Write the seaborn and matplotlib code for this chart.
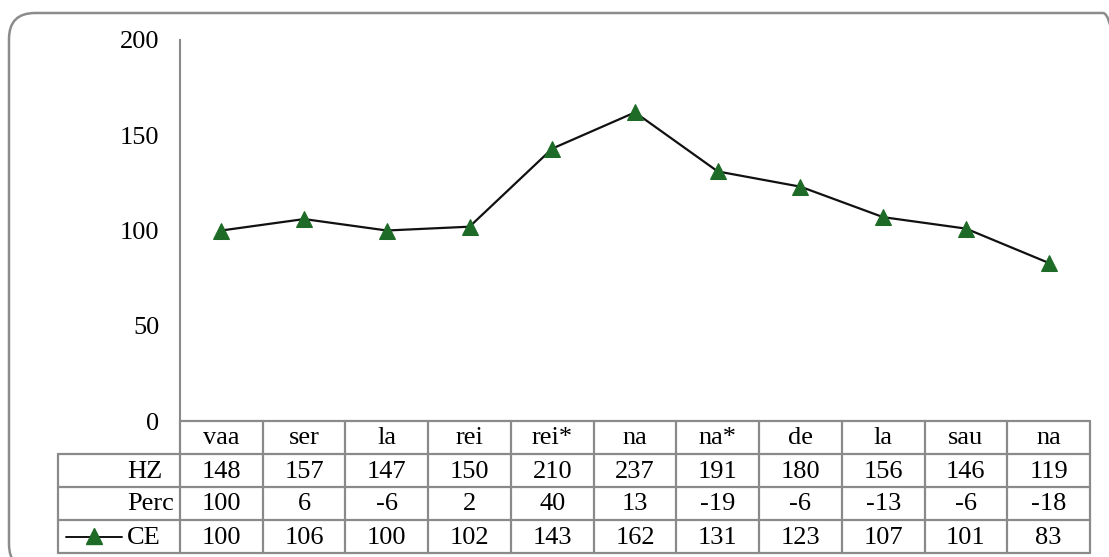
import matplotlib
matplotlib.use("Agg")
import matplotlib.pyplot as plt
import seaborn as sns
import pandas as pd
from matplotlib.patches import FancyBboxPatch
from matplotlib.lines import Line2D

categories = ["vaa", "ser", "la", "rei", "rei*", "na", "na*", "de", "la", "sau", "na"]
hz = [148, 157, 147, 150, 210, 237, 191, 180, 156, 146, 119]
perc = [100, 6, -6, 2, 40, 13, -19, -6, -13, -6, -18]
ce = [100, 106, 100, 102, 143, 162, 131, 123, 107, 101, 83]
row_labels = ["HZ", "Perc", "CE"]
y_ticks = [0, 50, 100, 150, 200]

sns.set_theme(style="white")
plt.rcParams["font.family"] = ["Liberation Serif", "DejaVu Serif"]
plt.rcParams["text.color"] = "black"

W, H = 1109, 557
fig = plt.figure(figsize=(W / 100, H / 100), dpi=100)

# frame axes (normal orientation, pixel units)
fr = fig.add_axes([0, 0, 1, 1])
fr.set_xlim(0, W)
fr.set_ylim(0, H)
fr.axis("off")
frame = FancyBboxPatch((9, H - 570), 1120, 557, boxstyle="round,pad=0,rounding_size=26",
                       fill=False, edgecolor="#8c8c8c", linewidth=1.8)
fr.add_patch(frame)

# overlay axes in pixel coordinates (y down) for table
bg = fig.add_axes([0, 0, 1, 1])
bg.set_xlim(0, W)
bg.set_ylim(H, 0)
bg.axis("off")

GRID = "#8a8a8a"
x0, x1 = 180, 1090
lab_x0 = 58
n = len(categories)
cw = (x1 - x0) / n
row_y = [421, 454, 487, 520, 553]
fs = 19

# main plot axes
ax = fig.add_axes([x0 / W, 1 - 421 / H, (x1 - x0) / W, (421 - 40) / H])
df = pd.DataFrame({"x": range(n), "CE": ce})
sns.lineplot(data=df, x="x", y="CE", ax=ax, color="#111111", linewidth=1.6,
             marker="^", markersize=11.5, markerfacecolor="#1d6b26",
             markeredgecolor="#1d6b26")
ax.set_xlim(-0.5, n - 0.5)
ax.set_ylim(0, 200)
ax.set_yticks(y_ticks)
ax.set_yticklabels([str(v) for v in y_ticks], fontsize=fs, color="black")
ax.tick_params(axis="y", length=0, pad=15)
ax.set_xticks([])
ax.set_xlabel("")
ax.set_ylabel("")
for s in ["top", "right", "bottom"]:
    ax.spines[s].set_visible(False)
ax.spines["left"].set_color(GRID)
ax.spines["left"].set_linewidth(1.5)
ax.patch.set_alpha(0)

lw = 1.6
# horizontal lines
bg.add_line(Line2D([x0, x1], [row_y[0], row_y[0]], color=GRID, lw=lw))
for y in row_y[1:]:
    bg.add_line(Line2D([lab_x0, x1], [y, y], color=GRID, lw=lw))
# vertical lines
bg.add_line(Line2D([lab_x0, lab_x0], [row_y[1], row_y[4]], color=GRID, lw=lw))
for i in range(n + 1):
    x = x0 + i * cw
    bg.add_line(Line2D([x, x], [row_y[0], row_y[4]], color=GRID, lw=lw))

# category row
for i, c in enumerate(categories):
    bg.text(x0 + (i + 0.5) * cw, (row_y[0] + row_y[1]) / 2 + 1, c, ha="center",
            va="center", fontsize=fs, color="black")
rows = [hz, perc, ce]
for r, vals in enumerate(rows):
    yc = (row_y[r + 1] + row_y[r + 2]) / 2 + 1
    bg.text(127, yc, row_labels[r], ha="left", va="center", fontsize=fs, color="black")
    for i, v in enumerate(vals):
        bg.text(x0 + (i + 0.5) * cw, yc, str(v), ha="center", va="center",
                fontsize=fs, color="black")

# legend key in CE row
yk = (row_y[3] + row_y[4]) / 2
bg.add_line(Line2D([66, 122], [yk, yk], color="#111111", lw=1.4))
bg.add_line(Line2D([94], [yk - 1], marker="^", markersize=11.5, color="#1d6b26",
                   markerfacecolor="#1d6b26", markeredgecolor="#1d6b26", lw=0))

fig.savefig("out.png", dpi=100)
